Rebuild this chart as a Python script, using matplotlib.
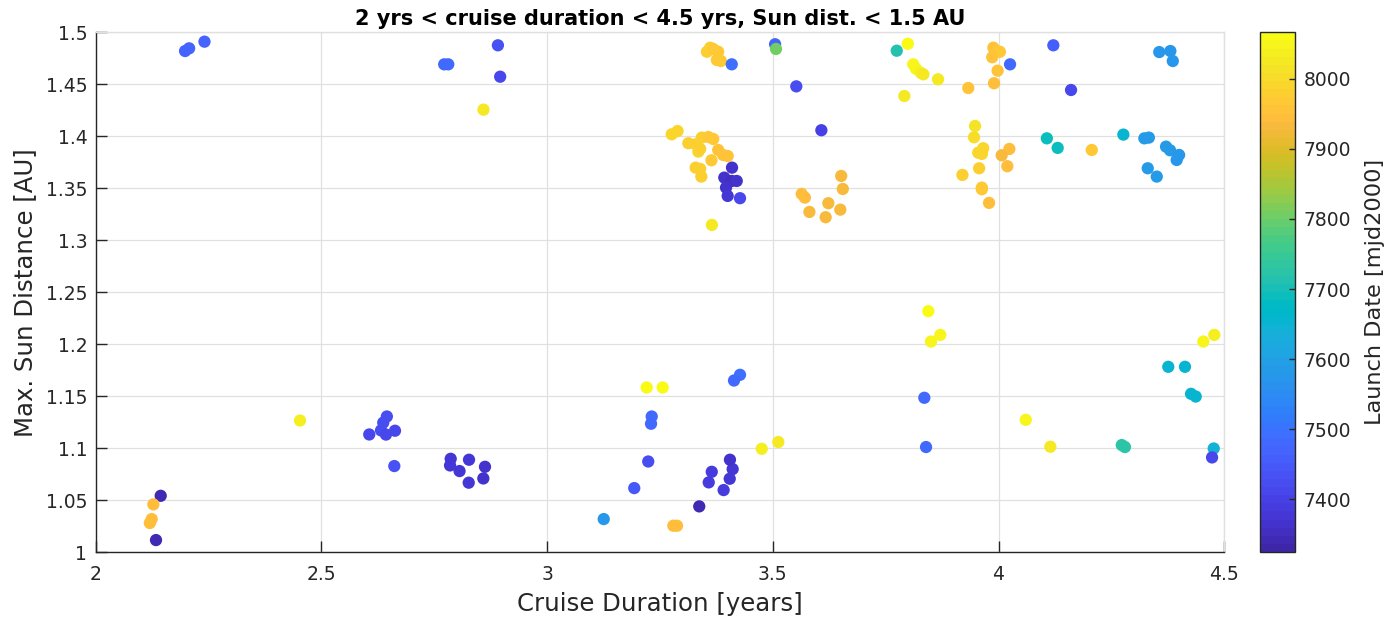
import matplotlib
matplotlib.use("Agg")
import matplotlib.pyplot as plt
import numpy as np
from matplotlib.colors import ListedColormap, Normalize
from matplotlib.ticker import FuncFormatter

# MATLAB parula colour table (64 entries)
PARULA = [
    [0.2422, 0.1504, 0.6603], [0.2504, 0.1650, 0.7076], [0.2578, 0.1818, 0.7511],
    [0.2647, 0.1978, 0.7952], [0.2706, 0.2147, 0.8364], [0.2751, 0.2342, 0.8710],
    [0.2783, 0.2559, 0.8991], [0.2803, 0.2782, 0.9221], [0.2813, 0.3006, 0.9414],
    [0.2810, 0.3228, 0.9579], [0.2795, 0.3447, 0.9717], [0.2760, 0.3667, 0.9829],
    [0.2699, 0.3892, 0.9906], [0.2602, 0.4123, 0.9952], [0.2440, 0.4358, 0.9988],
    [0.2206, 0.4603, 0.9973], [0.1963, 0.4847, 0.9892], [0.1834, 0.5074, 0.9798],
    [0.1786, 0.5289, 0.9682], [0.1764, 0.5499, 0.9520], [0.1687, 0.5703, 0.9359],
    [0.1540, 0.5902, 0.9218], [0.1460, 0.6091, 0.9079], [0.1380, 0.6276, 0.8973],
    [0.1248, 0.6459, 0.8883], [0.1113, 0.6635, 0.8763], [0.0952, 0.6798, 0.8598],
    [0.0689, 0.6948, 0.8394], [0.0297, 0.7082, 0.8163], [0.0036, 0.7203, 0.7917],
    [0.0067, 0.7312, 0.7660], [0.0433, 0.7411, 0.7394], [0.0964, 0.7500, 0.7120],
    [0.1408, 0.7584, 0.6842], [0.1717, 0.7670, 0.6554], [0.1938, 0.7758, 0.6251],
    [0.2161, 0.7843, 0.5923], [0.2470, 0.7918, 0.5567], [0.2906, 0.7973, 0.5188],
    [0.3406, 0.8008, 0.4789], [0.3909, 0.8029, 0.4354], [0.4456, 0.8024, 0.3909],
    [0.5044, 0.7993, 0.3480], [0.5616, 0.7942, 0.3045], [0.6174, 0.7876, 0.2612],
    [0.6720, 0.7793, 0.2227], [0.7242, 0.7698, 0.1910], [0.7738, 0.7598, 0.1646],
    [0.8203, 0.7498, 0.1535], [0.8634, 0.7406, 0.1596], [0.9035, 0.7330, 0.1774],
    [0.9393, 0.7288, 0.2100], [0.9728, 0.7298, 0.2394], [0.9956, 0.7434, 0.2371],
    [0.9970, 0.7659, 0.2199], [0.9952, 0.7893, 0.2028], [0.9892, 0.8136, 0.1885],
    [0.9786, 0.8386, 0.1766], [0.9676, 0.8639, 0.1643], [0.9610, 0.8890, 0.1537],
    [0.9597, 0.9135, 0.1423], [0.9628, 0.9373, 0.1265], [0.9691, 0.9606, 0.1064],
    [0.9769, 0.9839, 0.0805],
]
parula = ListedColormap(PARULA, name="parula")

# Cruise duration [years]
duration = [
    2.198, 2.207, 2.241, 2.891, 2.772, 2.781, 2.896, 2.859,
    3.361, 3.354, 3.368, 3.379, 3.376, 3.385, 3.409, 3.505, 3.507, 3.552,
    3.6075, 3.7745, 3.799, 3.811, 3.817, 3.828, 3.8335, 3.866, 3.7913,
    3.276, 3.289, 3.3128, 3.3292, 3.3425, 3.357, 3.368, 3.335, 3.339, 3.379,
    3.390, 3.400, 3.364, 3.329, 3.339, 3.3416, 3.365,
    3.4096, 3.3925, 3.409, 3.420, 3.3963, 3.400, 3.4273,
    3.6515, 3.655, 3.564, 3.571, 3.623, 3.581, 3.6495, 3.617,
    3.9885, 4.003, 3.986, 3.998, 3.990, 3.933, 4.0255, 4.1214, 4.1606,
    4.356, 4.3806, 4.386, 3.948, 3.9457, 3.966, 3.955, 3.963, 4.024, 4.007,
    3.920, 3.957, 4.0195, 3.963, 3.963, 3.979, 4.2065, 4.107, 4.131, 4.2765,
    4.323, 4.333, 4.371, 4.380, 4.400, 4.3946, 4.3305, 4.3505,
    2.4526, 2.144, 2.1277, 2.124, 2.120, 2.1336,
    2.606, 2.632, 2.637, 2.645, 2.643, 2.663, 2.6615,
    2.7864, 2.785, 2.827, 2.8624, 2.806, 2.8587, 2.8263,
    3.2206, 3.256, 3.2317, 3.2302, 3.224, 3.193, 3.1254, 3.2796, 3.2877,
    3.337, 3.358, 3.3647, 3.391, 3.4045, 3.411, 3.405, 3.4273, 3.414,
    3.4754, 3.5122, 3.8356, 3.8394, 3.8445, 3.871, 3.8504,
    4.0603, 4.1148, 4.273, 4.280, 4.376, 4.413, 4.4265, 4.4368,
    4.4536, 4.478, 4.4767, 4.473,
]

# Maximum distance from the Sun [AU]
sun_dist = [
    1.482, 1.4846, 1.491, 1.4875, 1.4692, 1.4692, 1.4573, 1.4256,
    1.4852, 1.4813, 1.484, 1.4813, 1.4734, 1.4724, 1.4692, 1.4885, 1.484, 1.448,
    1.4058, 1.4823, 1.489, 1.4692, 1.465, 1.461, 1.4596, 1.4548, 1.4387,
    1.4019, 1.405, 1.3933, 1.3923, 1.3987, 1.3993, 1.3974, 1.3852, 1.3878, 1.3868,
    1.382, 1.381, 1.3769, 1.3698, 1.3686, 1.3612, 1.3147,
    1.3698, 1.3602, 1.357, 1.357, 1.3506, 1.3426, 1.3404,
    1.3618, 1.3493, 1.3445, 1.341, 1.3356, 1.3272, 1.3294, 1.3221,
    1.4852, 1.4813, 1.476, 1.4631, 1.451, 1.4464, 1.4692, 1.4875, 1.4445,
    1.481, 1.482, 1.4724, 1.4099, 1.399, 1.3885, 1.3842, 1.383, 1.3878, 1.3817,
    1.3628, 1.3692, 1.3712, 1.3506, 1.349, 1.3359, 1.3868, 1.398, 1.3888, 1.4016,
    1.398, 1.3987, 1.390, 1.3865, 1.382, 1.3772, 1.3692, 1.3612,
    1.1265, 1.0541, 1.0458, 1.0317, 1.0279, 1.0115,
    1.1131, 1.117, 1.1245, 1.1304, 1.113, 1.1167, 1.0827,
    1.0897, 1.0833, 1.0888, 1.082, 1.0779, 1.0708, 1.0667,
    1.1583, 1.1583, 1.1304, 1.1234, 1.0871, 1.0615, 1.0317, 1.0253, 1.0253,
    1.0439, 1.067, 1.0772, 1.0596, 1.0705, 1.0798, 1.0888, 1.1705, 1.165,
    1.0993, 1.1058, 1.1484, 1.101, 1.2317, 1.2089, 1.2025,
    1.1272, 1.1013, 1.1029, 1.101, 1.1782, 1.1782, 1.1522, 1.1496,
    1.2025, 1.2089, 1.0996, 1.091,
]

# Launch date [mjd2000]
launch = [
    7475, 7475, 7465, 7440, 7480, 7480, 7415, 8030,
    7975, 7975, 7970, 7970, 7965, 7965, 7490, 7470, 7800, 7420,
    7400, 7715, 8058, 8045, 8045, 8035, 8030, 8020, 8030,
    7985, 7985, 7975, 7980, 7975, 7970, 7965, 7985, 7980, 7960,
    7955, 7960, 7965, 7980, 7980, 7975, 8030,
    7360, 7365, 7355, 7360, 7365, 7375, 7410,
    7935, 7935, 7940, 7940, 7935, 7930, 7935, 7935,
    7960, 7965, 7960, 7955, 7950, 7955, 7480, 7460, 7410,
    7575, 7575, 7575, 8010, 8000, 7990, 7990, 7990, 7950, 7935,
    7980, 7975, 7945, 7965, 7965, 7950, 7970, 7690, 7685, 7650,
    7590, 7590, 7580, 7580, 7575, 7575, 7585, 7580,
    8040, 7345, 7945, 7950, 7950, 7340,
    7415, 7420, 7420, 7420, 7415, 7410, 7430,
    7380, 7380, 7375, 7365, 7375, 7365, 7380,
    8060, 8058, 7485, 7480, 7420, 7445, 7570, 7950, 7950,
    7345, 7385, 7390, 7390, 7380, 7375, 7370, 7490, 7485,
    8035, 8030, 7480, 7480, 8058, 8045, 8050,
    8045, 8025, 7730, 7730, 7660, 7660, 7650, 7650,
    8050, 8040, 7640, 7410,
]

x_ticks = [2, 2.5, 3, 3.5, 4, 4.5]
y_ticks = [1, 1.05, 1.1, 1.15, 1.2, 1.25, 1.3, 1.35, 1.4, 1.45, 1.5]
c_ticks = [7400, 7500, 7600, 7700, 7800, 7900, 8000]
c_limits = (7325, 8066)

AX_COL = (0.15, 0.15, 0.15)
GRID_COL = (0.88, 0.88, 0.88)

plt.rcParams["font.family"] = ["DejaVu Sans"]

fig = plt.figure(figsize=(13.95, 6.19), dpi=100)
ax = fig.add_axes([0.0686, 0.1082, 0.809, 0.8396])
cax = fig.add_axes([0.9032, 0.1082, 0.0251, 0.8396])

norm = Normalize(vmin=c_limits[0], vmax=c_limits[1])
sc = ax.scatter(duration, sun_dist, c=launch, cmap=parula, norm=norm,
                s=78, linewidths=0, zorder=3)

ax.set_xlim(2, 4.5)
ax.set_ylim(1, 1.5)
ax.set_xticks(x_ticks)
ax.set_yticks(y_ticks)
ax.xaxis.set_major_formatter(FuncFormatter(lambda v, p: f"{v:g}"))
ax.yaxis.set_major_formatter(FuncFormatter(lambda v, p: f"{v:g}"))
ax.grid(True, color=GRID_COL, linewidth=0.9, zorder=0)
ax.set_axisbelow(True)

for side in ("left", "bottom"):
    ax.spines[side].set_color(AX_COL)
    ax.spines[side].set_linewidth(1.0)
for side in ("top", "right"):
    ax.spines[side].set_color(GRID_COL)
    ax.spines[side].set_linewidth(1.0)

ax.tick_params(axis="both", direction="in", length=8, width=1.0,
               color=AX_COL, labelcolor=AX_COL, labelsize=13.5, pad=6)
ax.tick_params(axis="x", pad=9)

ax.set_xlabel("Cruise Duration [years]", fontsize=17.6, color=AX_COL, labelpad=6)
ax.set_ylabel("Max. Sun Distance [AU]", fontsize=17.6, color=AX_COL, labelpad=6)
ax.set_title("2 yrs < cruise duration < 4.5 yrs, Sun dist. < 1.5 AU",
             fontsize=15, fontweight="bold", color="black", pad=5)

cb = fig.colorbar(sc, cax=cax)
cb.set_ticks(c_ticks)
cb.outline.set_edgecolor(AX_COL)
cb.outline.set_linewidth(1.0)
cax.tick_params(direction="in", length=4, width=1.0, color=AX_COL,
                labelcolor=AX_COL, labelsize=13.5, pad=6)
cb.set_label("Launch Date [mjd2000]", fontsize=16.2, color=AX_COL, labelpad=10)

fig.savefig("out.png", dpi=100)
